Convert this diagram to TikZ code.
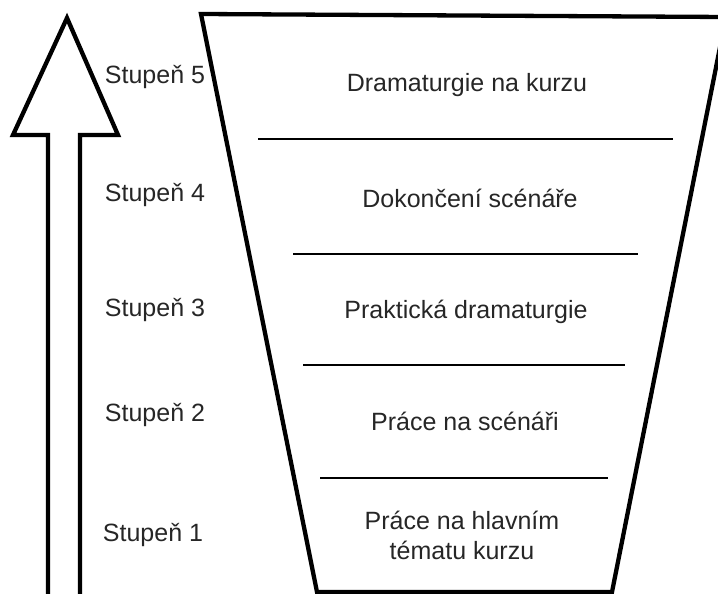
\documentclass[tikz,border=0pt]{standalone}
\usepackage{fontspec}
\setmainfont{Liberation Sans}
\begin{document}
\begin{tikzpicture}[x=1pt,y=-1pt,
  outline/.style={line width=4.3pt,line join=miter},
  divider/.style={line width=1.8pt},
  lbl/.style={font=\fontsize{25}{30}\selectfont,inner sep=0pt,text=black!85},
  stage/.style={lbl,align=center}]
\useasboundingbox (0,0) rectangle (718,594);
\clip (0,0) rectangle (718,594);
% upward arrow
\draw[outline,fill=white] (48,600) -- (48,135) -- (13,135) -- (67,18) -- (118,135) -- (80,135) -- (80,600);
% trapezoid
\draw[outline] (201,14) -- (726,17) -- (612,592) -- (317,592) -- cycle;
% dividers
\draw[divider] (258,139) -- (673,139);
\draw[divider] (293,254) -- (638,254);
\draw[divider] (303,365) -- (625,365);
\draw[divider] (320,478) -- (608,478);
% stage texts
\node[stage] (s5) at (467,85) {Dramaturgie na kurzu};
\node[stage] (s4) at (470,198) {Dokončení scénáře};
\node[stage] (s3) at (466,312) {Praktická dramaturgie};
\node[stage] (s2) at (465,421) {Práce na scénáři};
\node[stage] (s1) at (462,535) {Práce na hlavním\\tématu kurzu};
% level labels
\node[lbl] (l5) at (155,77) {Stupeň 5};
\node[lbl] (l4) at (155,195) {Stupeň 4};
\node[lbl] (l3) at (155,310) {Stupeň 3};
\node[lbl] (l2) at (155,415) {Stupeň 2};
\node[lbl] (l1) at (153,535) {Stupeň 1};
\end{tikzpicture}
\end{document}
